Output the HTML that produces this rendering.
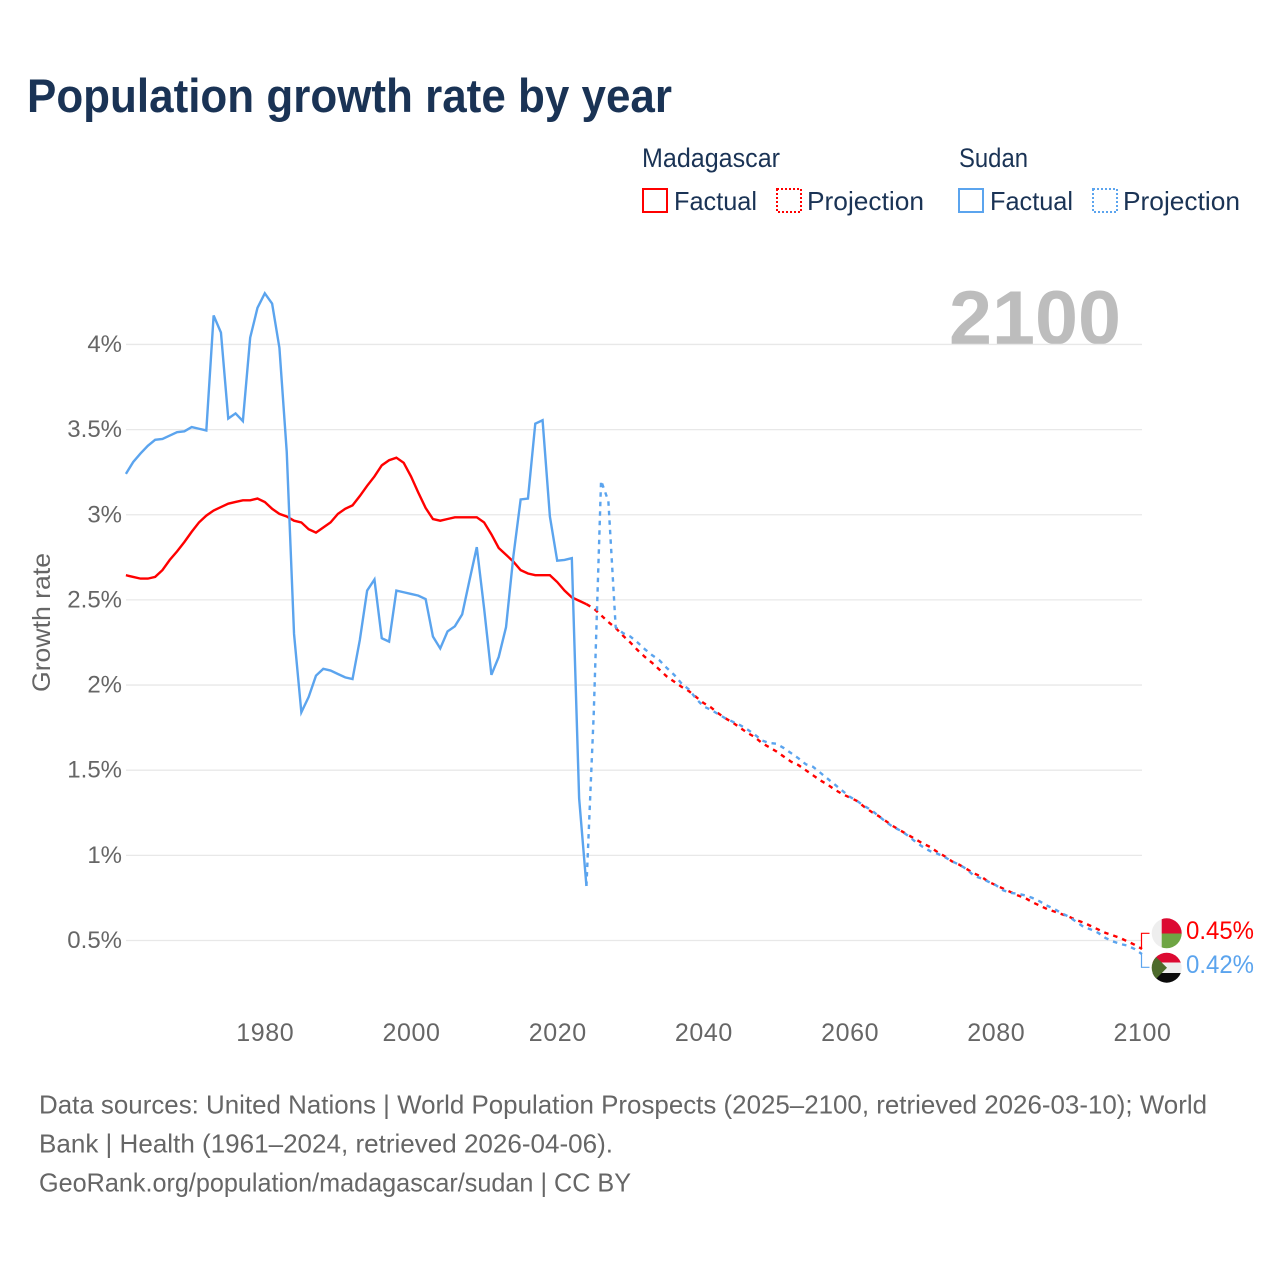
<!DOCTYPE html>
<html lang="en">
<head>
<meta charset="utf-8">
<title>Population growth rate by year</title>
<style>
html,body{margin:0;padding:0;background:#fff;}
svg{display:block;font-family:"Liberation Sans",sans-serif;}
</style>
</head>
<body>
<svg id="chart" width="1280" height="1280" viewBox="0 0 1280 1280" xmlns="http://www.w3.org/2000/svg">
  <rect x="0" y="0" width="1280" height="1280" fill="#fff"/>
  <text x="27" y="112" font-size="47" font-weight="700" fill="#1a3355" textLength="645" lengthAdjust="spacingAndGlyphs">Population growth rate by year</text>

  <g font-size="26" fill="#1a3355">
    <text x="642" y="167" font-size="27" textLength="138" lengthAdjust="spacingAndGlyphs">Madagascar</text>
    <text x="959" y="167" font-size="27" textLength="69" lengthAdjust="spacingAndGlyphs">Sudan</text>
    <rect x="643" y="189" width="24" height="23" fill="none" stroke="#ff0000" stroke-width="2"/>
    <text x="674" y="210" textLength="83" lengthAdjust="spacingAndGlyphs">Factual</text>
    <rect x="777" y="189" width="24" height="23" fill="none" stroke="#ff0000" stroke-width="2" stroke-dasharray="2 2"/>
    <text x="807" y="210" textLength="117" lengthAdjust="spacingAndGlyphs">Projection</text>
    <rect x="959" y="189" width="24" height="23" fill="none" stroke="#5ba4ee" stroke-width="2"/>
    <text x="990" y="210" textLength="83" lengthAdjust="spacingAndGlyphs">Factual</text>
    <rect x="1093" y="189" width="24" height="23" fill="none" stroke="#5ba4ee" stroke-width="2" stroke-dasharray="2 2"/>
    <text x="1123" y="210" textLength="117" lengthAdjust="spacingAndGlyphs">Projection</text>
  </g>

  <text x="949" y="344" font-size="76" font-weight="700" fill="#bdbdbd" textLength="172" lengthAdjust="spacingAndGlyphs">2100</text>

  <g id="grid"></g>
  <g id="yticks"></g>
  <g id="xticks"></g>
  <text transform="translate(50,692) rotate(-90)" x="0" y="0" font-size="25" fill="#666" textLength="139" lengthAdjust="spacingAndGlyphs">Growth rate</text>
  <g id="series"></g>

  <defs>
    <clipPath id="flag-clip-mg"><circle cx="1166.7" cy="933.3" r="15"/></clipPath>
    <clipPath id="flag-clip-sd"><circle cx="1166.7" cy="967.7" r="15"/></clipPath>
  </defs>
  <path id="leader-madagascar" fill="none" stroke="#ff0000" stroke-width="1.2"/>
  <path id="leader-sudan" fill="none" stroke="#5ba4ee" stroke-width="1.2"/>
  <g clip-path="url(#flag-clip-mg)">
    <rect x="1151" y="918" width="10.7" height="31" fill="#eeeeee"/>
    <rect x="1161.7" y="918" width="22" height="15.5" fill="#dc0a32"/>
    <rect x="1161.7" y="933.5" width="22" height="16" fill="#6ea544"/>
  </g>
  <g clip-path="url(#flag-clip-sd)">
    <rect x="1151" y="952" width="32" height="11" fill="#dc0a32"/>
    <rect x="1151" y="962.5" width="32" height="11" fill="#eeeeee"/>
    <rect x="1151" y="973" width="32" height="11" fill="#0b0b0b"/>
    <polygon points="1151,952 1167,967.7 1151,984" fill="#4d6b2c"/>
  </g>
  <text x="1186" y="939" font-size="25" fill="#ff0000" textLength="68" lengthAdjust="spacingAndGlyphs">0.45%</text>
  <text x="1186" y="973" font-size="25" fill="#5ba4ee" textLength="68" lengthAdjust="spacingAndGlyphs">0.42%</text>

  <g font-size="26" fill="#666">
    <text x="39" y="1113.5" textLength="1168" lengthAdjust="spacingAndGlyphs">Data sources: United Nations | World Population Prospects (2025–2100, retrieved 2026-03-10); World</text>
    <text x="39" y="1152.5" textLength="574" lengthAdjust="spacingAndGlyphs">Bank | Health (1961–2024, retrieved 2026-04-06).</text>
    <text x="39" y="1191.5" textLength="592" lengthAdjust="spacingAndGlyphs">GeoRank.org/population/madagascar/sudan | CC BY</text>
  </g>
</svg>

<script>
const factualStartYear = 1961;
const projectionStartYear = 2024;
const xTickYears = [1980, 2000, 2020, 2040, 2060, 2080, 2100];
const yTickValues = [0.5, 1, 1.5, 2, 2.5, 3, 3.5, 4];
const yTickLabels = ['0.5%', '1%', '1.5%', '2%', '2.5%', '3%', '3.5%', '4%'];

const madagascarFactual = [
  2.645, 2.635, 2.625, 2.625, 2.635, 2.675, 2.735, 2.785, 2.84, 2.90,
  2.955, 2.995, 3.025, 3.045, 3.065, 3.075, 3.085, 3.085, 3.095, 3.075,
  3.035, 3.005, 2.99, 2.965, 2.955, 2.915, 2.895, 2.925, 2.955, 3.005,
  3.035, 3.055, 3.11, 3.17, 3.225, 3.29, 3.32, 3.335, 3.305, 3.225,
  3.13, 3.04, 2.975, 2.965, 2.975, 2.985, 2.985, 2.985, 2.985, 2.955,
  2.885, 2.805, 2.765, 2.725, 2.675, 2.655, 2.645, 2.645, 2.645, 2.605,
  2.555, 2.515, 2.495, 2.475
];
const sudanFactual = [
  3.24, 3.31, 3.36, 3.405, 3.44, 3.445, 3.465, 3.485, 3.49, 3.515,
  3.505, 3.495, 4.17, 4.07, 3.565, 3.595, 3.55, 4.04, 4.215, 4.30,
  4.24, 3.98, 3.37, 2.30, 1.84, 1.93, 2.055, 2.095, 2.085, 2.065,
  2.045, 2.035, 2.265, 2.555, 2.62, 2.275, 2.255, 2.555, 2.545, 2.535,
  2.525, 2.505, 2.285, 2.215, 2.315, 2.345, 2.415, 2.615, 2.81, 2.45,
  2.06, 2.165, 2.34, 2.755, 3.09, 3.095, 3.535, 3.555, 2.99, 2.73,
  2.735, 2.745, 1.335, 0.82
];
const madagascarProjection = [
  2.475, 2.45, 2.41, 2.37, 2.335, 2.29, 2.25, 2.205, 2.165, 2.13,
  2.09, 2.05, 2.02, 1.99, 1.965, 1.93, 1.895, 1.87, 1.835, 1.805,
  1.78, 1.75, 1.72, 1.695, 1.66, 1.635, 1.61, 1.58, 1.55, 1.53,
  1.50, 1.47, 1.44, 1.415, 1.385, 1.36, 1.34, 1.32, 1.285, 1.255,
  1.23, 1.20, 1.17, 1.145, 1.12, 1.095, 1.07, 1.05, 1.02, 0.995,
  0.965, 0.945, 0.92, 0.895, 0.875, 0.845, 0.825, 0.805, 0.785, 0.765,
  0.75, 0.725, 0.705, 0.685, 0.67, 0.655, 0.64, 0.62, 0.605, 0.585,
  0.565, 0.545, 0.53, 0.515, 0.495, 0.475, 0.45
];
const sudanProjection = [
  0.82, 1.835, 3.20, 3.08, 2.34, 2.305, 2.285, 2.25, 2.21, 2.175,
  2.145, 2.10, 2.06, 2.01, 1.975, 1.92, 1.875, 1.855, 1.83, 1.805,
  1.785, 1.765, 1.74, 1.71, 1.675, 1.66, 1.655, 1.63, 1.60, 1.57,
  1.535, 1.52, 1.485, 1.45, 1.415, 1.38, 1.345, 1.32, 1.29, 1.265,
  1.23, 1.195, 1.165, 1.145, 1.115, 1.08, 1.05, 1.025, 1.01, 0.99,
  0.965, 0.945, 0.92, 0.88, 0.865, 0.845, 0.825, 0.795, 0.78, 0.775,
  0.765, 0.75, 0.73, 0.705, 0.685, 0.66, 0.64, 0.61, 0.58, 0.565,
  0.545, 0.515, 0.495, 0.48, 0.47, 0.45, 0.42
];

const SVG_NS = 'http://www.w3.org/2000/svg';
const RED = '#ff0000';
const BLUE = '#5ba4ee';
function xScale(year) { return 264.8 + (year - 1980) * 7.31; }
function yScale(value) { return 940.5 - (value - 0.5) * 170.3; }
function pathFrom(startYear, values) {
  return values.map(function (v, i) {
    return (i ? 'L' : 'M') + xScale(startYear + i).toFixed(2) + ' ' + yScale(v).toFixed(2);
  }).join(' ');
}

const gridGroup = document.getElementById('grid');
const yTickGroup = document.getElementById('yticks');
yTickValues.forEach(function (v, i) {
  const line = document.createElementNS(SVG_NS, 'line');
  
  
  line.setAttribute('x1', 126);
  line.setAttribute('x2', 1142);
  line.setAttribute('y1', yScale(v));
  line.setAttribute('y2', yScale(v));
  line.setAttribute('stroke', '#e8e8e8');
  line.setAttribute('stroke-width', 1.3);
  gridGroup.appendChild(line);

  const label = document.createElementNS(SVG_NS, 'text');
  
  
  label.setAttribute('x', 122);
  label.setAttribute('y', yScale(v) + 7.5);
  label.setAttribute('text-anchor', 'end');
  label.setAttribute('font-size', 24);
  label.setAttribute('fill', '#666');
  label.textContent = yTickLabels[i];
  yTickGroup.appendChild(label);
});

const xTickGroup = document.getElementById('xticks');
xTickYears.forEach(function (year) {
  const label = document.createElementNS(SVG_NS, 'text');
  
  
  label.setAttribute('x', xScale(year) + 0.5);
  label.setAttribute('y', 1041);
  label.setAttribute('text-anchor', 'middle');
  label.setAttribute('font-size', 25);
  label.setAttribute('letter-spacing', 0.6);
  label.setAttribute('fill', '#666');
  label.textContent = String(year);
  xTickGroup.appendChild(label);
});

const seriesGroup = document.getElementById('series');

const madagascarFactualLine = document.createElementNS(SVG_NS, 'path');


madagascarFactualLine.setAttribute('d', pathFrom(factualStartYear, madagascarFactual));
madagascarFactualLine.setAttribute('fill', 'none');
madagascarFactualLine.setAttribute('stroke', RED);
madagascarFactualLine.setAttribute('stroke-width', 2.4);
seriesGroup.appendChild(madagascarFactualLine);

const madagascarProjectionLine = document.createElementNS(SVG_NS, 'path');


madagascarProjectionLine.setAttribute('d', pathFrom(projectionStartYear, madagascarProjection));
madagascarProjectionLine.setAttribute('fill', 'none');
madagascarProjectionLine.setAttribute('stroke', RED);
madagascarProjectionLine.setAttribute('stroke-width', 2.4);
madagascarProjectionLine.setAttribute('stroke-dasharray', '4.5 5');
seriesGroup.appendChild(madagascarProjectionLine);

const sudanFactualLine = document.createElementNS(SVG_NS, 'path');


sudanFactualLine.setAttribute('d', pathFrom(factualStartYear, sudanFactual));
sudanFactualLine.setAttribute('fill', 'none');
sudanFactualLine.setAttribute('stroke', BLUE);
sudanFactualLine.setAttribute('stroke-width', 2.4);
seriesGroup.appendChild(sudanFactualLine);

const sudanProjectionLine = document.createElementNS(SVG_NS, 'path');


sudanProjectionLine.setAttribute('d', pathFrom(projectionStartYear, sudanProjection));
sudanProjectionLine.setAttribute('fill', 'none');
sudanProjectionLine.setAttribute('stroke', BLUE);
sudanProjectionLine.setAttribute('stroke-width', 2.4);
sudanProjectionLine.setAttribute('stroke-dasharray', '4.5 5');
seriesGroup.appendChild(sudanProjectionLine);

const endX = xScale(2100) - 0.5;
document.getElementById('leader-madagascar').setAttribute('d',
  'M' + endX + ' ' + yScale(madagascarProjection[madagascarProjection.length - 1]) + ' L' + endX + ' 933.3 L1149.5 933.3');
document.getElementById('leader-sudan').setAttribute('d',
  'M' + endX + ' ' + yScale(sudanProjection[sudanProjection.length - 1]) + ' L' + endX + ' 967.3 L1149.5 967.3');
</script>
</body>
</html>
